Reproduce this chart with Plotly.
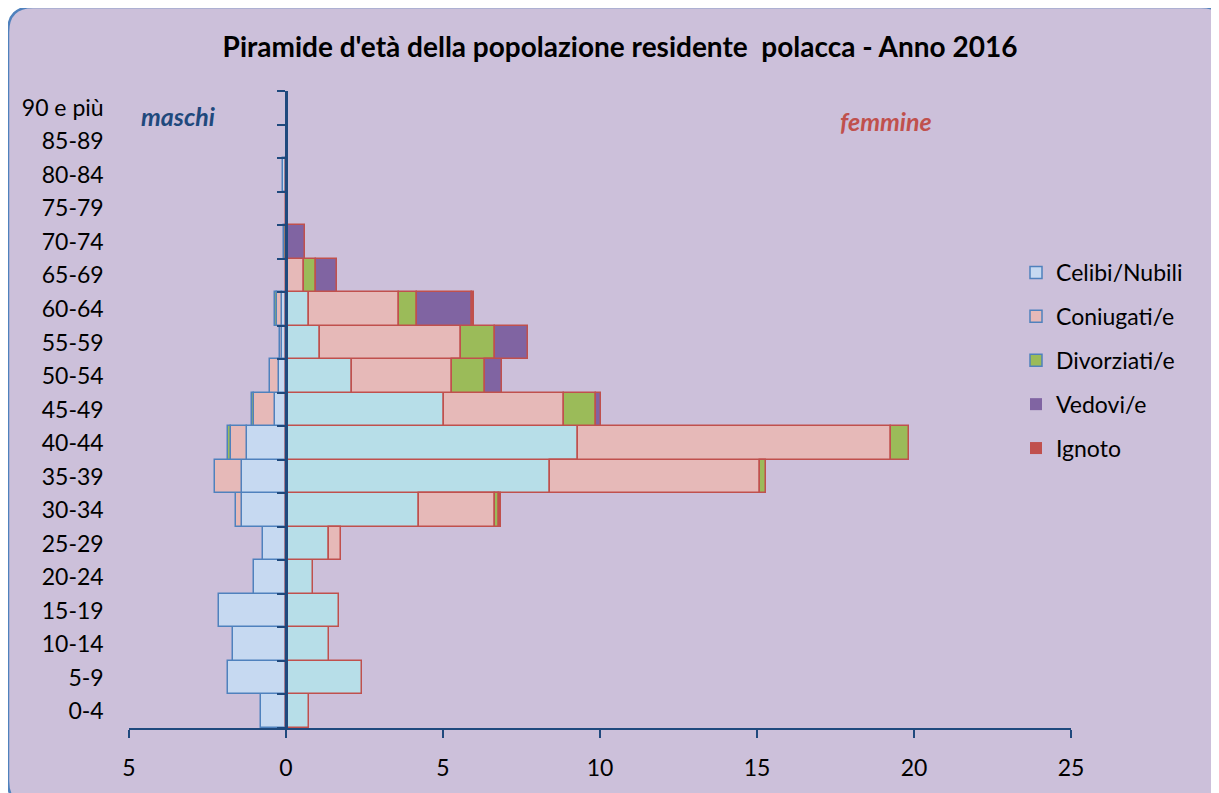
import plotly.graph_objects as go

categories = ["0-4", "5-9", "10-14", "15-19", "20-24", "25-29", "30-34", "35-39",
              "40-44", "45-49", "50-54", "55-59", "60-64", "65-69", "70-74",
              "75-79", "80-84", "85-89", "90 e più"]

# maschi (valori in valore assoluto, disegnati a sinistra)
celibi_m     = [0.81, 1.84, 1.68, 2.12, 1.03, 0.73, 1.40, 1.39, 1.24, 0.35, 0.21, 0.12, 0.14, 0, 0, 0, 0.08, 0, 0]
coniugati_m  = [0, 0, 0, 0, 0, 0, 0.20, 0.87, 0.51, 0.67, 0.29, 0.08, 0.14, 0, 0, 0, 0, 0, 0]
divorziati_m = [0, 0, 0, 0, 0, 0, 0, 0, 0.09, 0.07, 0, 0, 0.08, 0, 0.07, 0, 0, 0, 0]
vedovi_m     = [0] * 19
ignoto_m     = [0] * 19

# femmine
nubili_f     = [0.74, 2.42, 1.38, 1.68, 0.87, 1.38, 4.24, 8.41, 9.29, 5.03, 2.11, 1.09, 0.72, 0, 0, 0, 0, 0, 0]
coniugate_f  = [0, 0, 0, 0, 0, 0.37, 2.42, 6.67, 9.97, 3.82, 3.17, 4.47, 2.87, 0.56, 0.06, 0, 0, 0, 0]
divorziate_f = [0, 0, 0, 0, 0, 0, 0.12, 0.21, 0.59, 1.01, 1.07, 1.09, 0.57, 0.38, 0, 0, 0, 0, 0]
vedove_f     = [0, 0, 0, 0, 0, 0, 0, 0, 0, 0.16, 0.53, 1.05, 1.77, 0.67, 0.53, 0.07, 0.07, 0, 0]
ignoto_f     = [0, 0, 0, 0, 0, 0, 0.08, 0, 0, 0, 0, 0, 0.05, 0, 0, 0, 0, 0, 0]

x_ticks = [-5, 0, 5, 10, 15, 20, 25]
x_ticktext = ["5", "0", "5", "10", "15", "20", "25"]

names = ["Celibi/Nubili", "Coniugati/e", "Divorziati/e", "Vedovi/e", "Ignoto"]
male_colors = ["#C6D9F1", "#E6B9B8", "#9BBB59", "#8064A2", "#C0504D"]
female_colors = ["#B7DEE8", "#E6B9B8", "#9BBB59", "#8064A2", "#C0504D"]
male_line = ["#4F81BD", "#4F81BD", "#4F81BD", "rgba(0,0,0,0)", "rgba(0,0,0,0)"]

FONT = "Lato, 'Open Sans', sans-serif"

fig = go.Figure()
male_series = [celibi_m, coniugati_m, divorziati_m, vedovi_m, ignoto_m]
female_series = [nubili_f, coniugate_f, divorziate_f, vedove_f, ignoto_f]

for i, (name, vals) in enumerate(zip(names, male_series)):
    fig.add_trace(go.Bar(
        y=categories, x=[-v if v else None for v in vals], orientation="h",
        name=name, legendgroup=name, showlegend=True,
        marker=dict(color=male_colors[i], line=dict(color=male_line[i], width=1.5)),
    ))
for i, (name, vals) in enumerate(zip(names, female_series)):
    fig.add_trace(go.Bar(
        y=categories, x=[v if v else None for v in vals], orientation="h",
        name=name, legendgroup=name, showlegend=False,
        marker=dict(color=female_colors[i], line=dict(color="#C0504D", width=1.5)),
    ))

OFF = 8  # page body margin
W, H = 1219 - OFF, 793 - OFF
L, R, T, B = 129 - OFF, 1071 - OFF, 91 - OFF, 728 - OFF


def px_to_paper(px, py):
    # px, py: reference screenshot pixel coordinates
    return (px - OFF - L) / (R - L), (B - (py - OFF)) / (B - T)


def P(px, py):
    a, b = px_to_paper(px, py)
    return f"{a:.5f},{b:.5f}"


# rounded frame
x0, y0, x1, y1, r = 8, 7, 1226, 806, 25
path = (f"M {P(x0 + r, y0)} L {P(x1 - r, y0)} Q {P(x1, y0)} {P(x1, y0 + r)} "
        f"L {P(x1, y1 - r)} Q {P(x1, y1)} {P(x1 - r, y1)} "
        f"L {P(x0 + r, y1)} Q {P(x0, y1)} {P(x0, y1 - r)} "
        f"L {P(x0, y0 + r)} Q {P(x0, y0)} {P(x0 + r, y0)} Z")

fig.add_shape(type="path", path=path, xref="paper", yref="paper",
              fillcolor="#CCC0DA", line=dict(color="#4F81BD", width=2.5), layer="below")

mx, my = px_to_paper(178, 116)
fx, fy = px_to_paper(886, 121)
fig.add_annotation(text="maschi", x=mx, y=my, xref="paper", yref="paper", showarrow=False,
                   xanchor="center", yanchor="middle",
                   font=dict(family=FONT, size=25, color="#1F497D", weight="bold", style="italic"))
fig.add_annotation(text="femmine", x=fx, y=fy, xref="paper", yref="paper", showarrow=False,
                   xanchor="center", yanchor="middle",
                   font=dict(family=FONT, size=25, color="#C0504D", weight="bold", style="italic"))

lx, ly = px_to_paper(1016, 251)

fig.update_layout(
    width=W, height=H,
    margin=dict(l=L, r=W - R, t=T, b=H - B),
    paper_bgcolor="white", plot_bgcolor="rgba(0,0,0,0)",
    barmode="relative", bargap=0,
    title=dict(text="<b>Piramide d'età della popolazione residente  polacca - Anno 2016</b>",
               x=(620 - OFF) / W, xref="container", xanchor="center",
               y=1 - (47 - OFF) / H, yref="container", yanchor="middle",
               font=dict(family=FONT, size=28, color="black")),
    font=dict(family=FONT, size=23, color="black"),
    xaxis=dict(range=[-5, 25], tickvals=x_ticks, ticktext=x_ticktext,
               showgrid=False, zeroline=False, showline=True, linecolor="#1F497D", linewidth=2,
               ticks="outside", ticklen=8, tickwidth=2, tickcolor="#1F497D",
               ticklabelstandoff=10,
               tickfont=dict(family=FONT, size=23, color="black")),
    yaxis=dict(type="category", categoryarray=categories, range=[-0.5, 18.5],
               anchor="free", position=1 / 6,
               showgrid=False, zeroline=False, showline=True, linecolor="#1F497D", linewidth=2.5,
               ticks="outside", ticklen=8, tickwidth=2, tickcolor="#1F497D", tickson="boundaries",
               ticklabelstandoff=177,
               tickfont=dict(family=FONT, size=23, color="black")),
    legend=dict(x=lx, y=ly, xanchor="left", yanchor="top", bgcolor="rgba(0,0,0,0)",
                font=dict(family=FONT, size=23, color="black"), tracegroupgap=11,
                traceorder="grouped"),
    showlegend=True,
)

fig.write_html("out.html")
